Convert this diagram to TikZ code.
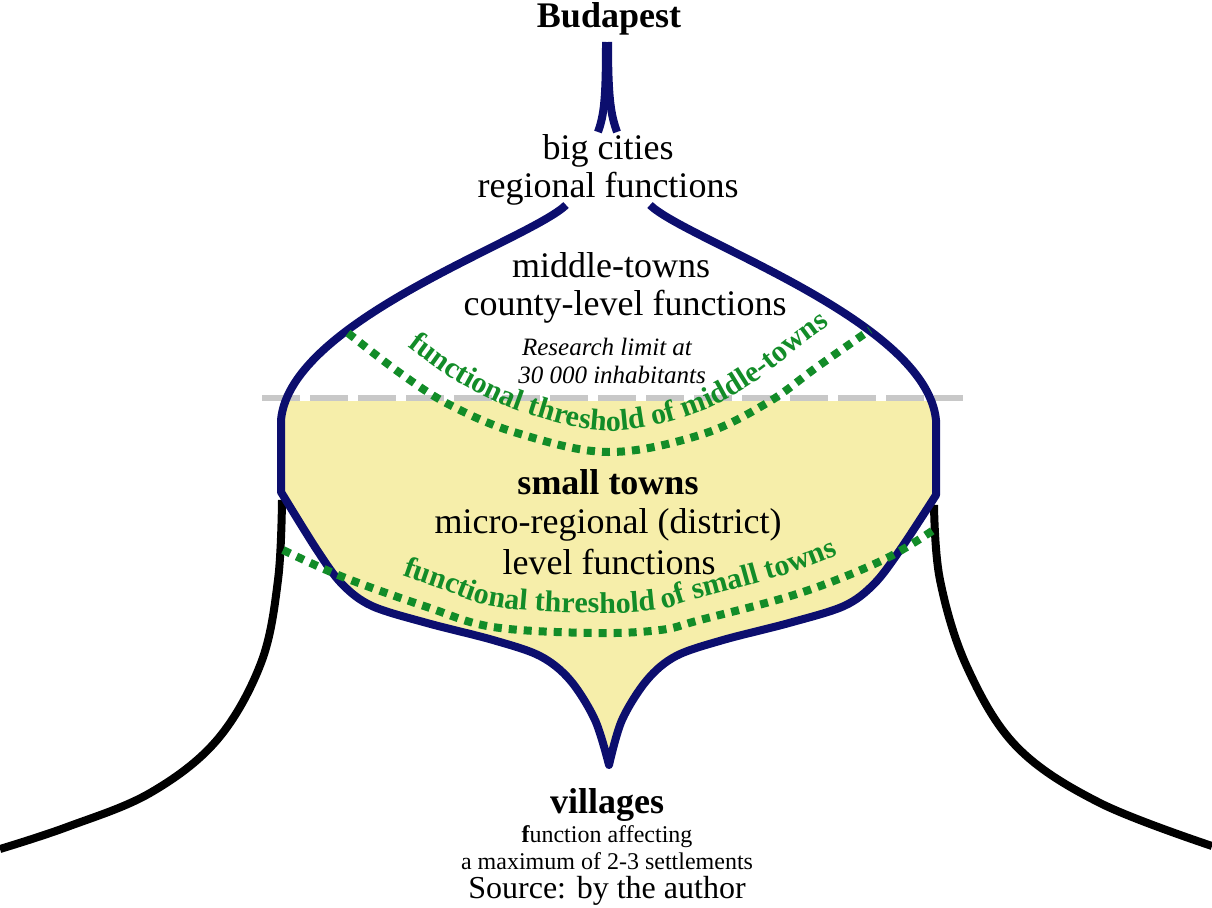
\documentclass[tikz,border=0pt]{standalone}
\usepackage{fontspec}
\setmainfont{Liberation Serif}
\usetikzlibrary{decorations.text}
\definecolor{navy}{RGB}{12,14,110}
\definecolor{tgreen}{RGB}{18,140,40}
\definecolor{lgray}{RGB}{200,200,200}
\definecolor{yfill}{RGB}{246,238,170}
\newcommand\threshfont{\bfseries\fontsize{30}{32}\selectfont}
\begin{document}
\begin{tikzpicture}[x=1pt,y=-1pt,
  outline/.style={draw=navy, line width=8pt, line join=round},
  ground/.style={draw=black, line width=8pt},
  thresh/.style={draw=tgreen, line width=8pt, dash pattern=on 8pt off 7pt},
  limitline/.style={draw=lgray, line width=6pt, dash pattern=on 38pt off 10pt},
  lbl/.style={font=\fontsize{36}{38}\selectfont, inner sep=0pt, anchor=base},
  lblb/.style={font=\bfseries\fontsize{36}{38}\selectfont, inner sep=0pt, anchor=base},
  lblit/.style={font=\itshape\fontsize{25}{27}\selectfont, inner sep=0pt, anchor=base},
  lblsm/.style={font=\fontsize{24}{26}\selectfont, inner sep=0pt, anchor=base},
  lblsrc/.style={font=\fontsize{32}{34}\selectfont, inner sep=0pt, anchor=base}]
\useasboundingbox (0,0) rectangle (1212,907);
% yellow fill below research limit
\begin{scope}
\clip (0,401) rectangle (1212,800);
\fill[yfill] (566,205) .. controls (530,240) and (290,320) .. (281,420) -- (281,492)
  -- plot[smooth,tension=0.55] coordinates {(281,492) (317,550) (342,584) (372,606) (427,623) (493,640) (540,656) (570,680) (595,720) (609,765)}
  -- plot[smooth,tension=0.55] coordinates {(609,765) (622,720) (647,680) (676,656) (723,640) (789,623) (844,606) (874,584) (900,550) (936,495)}
  -- (936,420) .. controls (926,320) and (686,240) .. (650,205) -- cycle;
\end{scope}
% research limit
\coordinate (limL) at (262,398);
\coordinate (limR) at (963,398);
\draw[limitline] (limL) -- (limR);
% ground curves
\draw[ground] plot[smooth,tension=0.6] coordinates {(282,500) (278,580) (261,663) (217,740) (150,793) (67,827) (0,849)};
\draw[ground] plot[smooth,tension=0.6] coordinates {(934,505) (940,580) (967,667) (1017,747) (1100,803) (1212,846)};
% blue outline
\draw[outline] (566,205) .. controls (530,240) and (290,320) .. (281,420) -- (281,492)
  -- plot[smooth,tension=0.55] coordinates {(281,492) (317,550) (342,584) (372,606) (427,623) (493,640) (540,656) (570,680) (595,720) (609,765)}
  -- plot[smooth,tension=0.55] coordinates {(609,765) (622,720) (647,680) (676,656) (723,640) (789,623) (844,606) (874,584) (900,550) (936,495)}
  -- (936,420) .. controls (926,320) and (686,240) .. (650,205);
% top spike
\draw[outline] (598,132) .. controls (604,115) and (606,100) .. (606,42);
\draw[outline] (617,132) .. controls (611,115) and (608,100) .. (608,42);
% thresholds
\draw[thresh] plot[smooth,tension=0.6] coordinates {(348,333) (400,373) (450,405) (517,433) (608,452) (700,435) (767,403) (817,367) (870,330)};
\path[decorate, decoration={text along path, text={|\threshfont|functional threshold of middle-towns}, text align={left indent=54pt}, text color=tgreen}]
  plot[smooth,tension=0.6] coordinates {(365,313) (416,353) (463,385) (525,413) (608,431) (692,415) (753,383) (801,346) (854,307) (900,272)};
\draw[thresh] plot[smooth,tension=0.6] coordinates {(283,550) (343,577) (427,607) (493,627) (593,633) (660,630) (700,620) (800,593) (883,560) (935,529)};
\path[decorate, decoration={text along path, text={|\threshfont|functional threshold of small towns}, text align={left indent=119pt}, text color=tgreen}]
  plot[smooth,tension=0.6] coordinates {(293,529) (352,557) (435,587) (497,607) (593,613) (657,610) (694,600) (793,572) (873,539) (923,509) (965,484)};
% labels
\node[lblb] (budapest) at (609,28) {Budapest};
\node[lbl] (big) at (608,159) {big cities};
\node[lbl] (regional) at (608,197) {regional functions};
\node[lbl] (middle) at (611,277) {middle-towns};
\node[lbl] (county) at (625,315) {county-level functions};
\node[lblit] (research) at (607,355) {Research limit at};
\node[lblit] (inhab) at (612,383) {30 000 inhabitants};
\node[lblb] (small) at (608,494) {small towns};
\node[lbl] (micro) at (608,533) {micro-regional (district)};
\node[lbl] (level) at (609,574) {level functions};
\node[lblb] (villages) at (607,813) {villages};
\node[lblsm] (affect) at (607,842) {{\bfseries f}unction affecting};
\node[lblsm] (maximum) at (607,869) {a maximum of 2-3 settlements};
\node[lblsrc] (source) at (607,898) {Source: by the author};
\end{tikzpicture}
\end{document}
